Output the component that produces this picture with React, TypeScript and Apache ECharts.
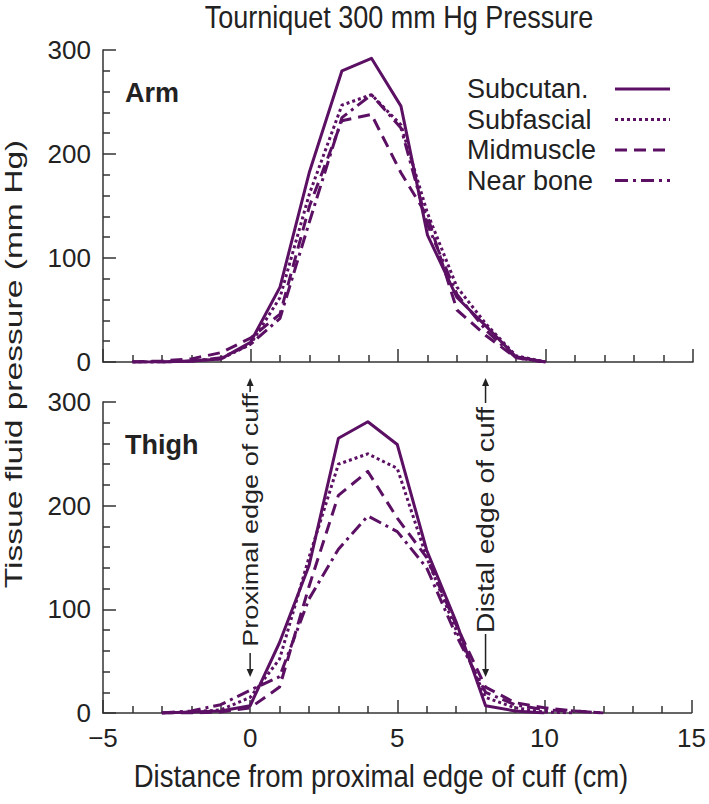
import { useEffect, useRef } from "react";
import * as echarts from "echarts";

const FONT = "'Liberation Sans', Arial, Helvetica, sans-serif";
const INK = "#222222";
const PURPLE = "#5c1064";

const seriesNames = ["Subcutan.", "Subfascial", "Midmuscle", "Near bone"];

// Arm (upper panel)
const armX = [-4, -3, -2, -1, 0, 1, 2, 3.1, 4.1, 5.1, 6, 7, 8, 9, 10];
const armSubcutan = [0, 0, 1, 3, 19, 72, 183, 280, 292, 246, 122, 62, 34, 5, 0];
const armSubfascial = [0, 0, 1, 3, 17, 62, 162, 247, 257, 228, 143, 72, 36, 6, 0];
const armMidmuscle = [0, 1, 3, 9, 23, 46, 150, 232, 238, 182, 140, 50, 25, 4, 0];
const armNearBone = [0, 0, 1, 4, 17, 42, 135, 235, 257, 225, 132, 65, 30, 4, 0];

// Thigh (lower panel)
const thighX = [-3, -2, -1, 0, 1, 2, 3, 4, 5, 6, 7, 8, 9, 10, 11, 12];
const thighSubcutan = [0, 1, 2, 7, 68, 142, 265, 281, 259, 157, 88, 7, 2, 0];
const thighSubfascial = [0, 1, 3, 15, 52, 150, 240, 250, 236, 150, 80, 15, 5, 1, 0];
const thighMidmuscle = [0, 0, 1, 5, 25, 122, 210, 233, 188, 150, 85, 25, 10, 5, 2, 0];
const thighNearBone = [0, 2, 8, 22, 35, 110, 158, 190, 175, 140, 75, 20, 8, 3, 2, 0];

const xMin = -5;
const xMax = 15;
const xStep = 5;
const yMin = 0;
const yMax = 300;
const yStep = 100;

const proximalEdge = 0;
const distalEdge = 8;

const dashes: any[] = ["solid", [3, 3], [12, 7], [13, 5, 3, 5]];

function pairs(xs: number[], ys: number[]) {
  return ys.map((y, i) => [xs[i], y]);
}

function lineSeries(name: string, idx: number, data: number[][], dash: any) {
  return {
    type: "line",
    name,
    xAxisIndex: idx,
    yAxisIndex: idx,
    data,
    symbol: "none",
    showSymbol: false,
    lineStyle: { color: PURPLE, width: 3, type: dash, cap: "butt", join: "round" },
    itemStyle: { color: PURPLE },
    emphasis: { disabled: true },
  };
}

const tickStyle = { color: "#333", width: 1.5 };

function xAxis(gridIndex: number, labels: boolean) {
  return {
    type: "value",
    gridIndex,
    min: xMin,
    max: xMax,
    interval: xStep,
    axisLine: { show: true, lineStyle: tickStyle },
    axisTick: { show: true, inside: true, length: 13, lineStyle: tickStyle },
    minorTick: { show: true, splitNumber: 5, length: 7, lineStyle: tickStyle },
    splitLine: { show: false },
    axisLabel: {
      show: labels,
      fontSize: 26,
      fontFamily: FONT,
      color: INK,
      margin: 12,
      formatter: (v: number) => String(v).replace("-", "\u2212"),
    },
  };
}

function yAxis(gridIndex: number) {
  return {
    type: "value",
    gridIndex,
    min: yMin,
    max: yMax,
    interval: yStep,
    axisLine: { show: true, onZero: false, lineStyle: tickStyle },
    axisTick: { show: true, inside: true, length: 13, lineStyle: tickStyle },
    minorTick: { show: true, splitNumber: 5, length: 7, lineStyle: tickStyle },
    splitLine: { show: false },
    axisLabel: { fontSize: 26, fontFamily: FONT, color: INK, margin: 12 },
  };
}

function arrow(x: number, yFrom: number, yTip: number) {
  const dir = yTip < yFrom ? -1 : 1;
  const head = 8;
  return [
    {
      type: "line",
      shape: { x1: x, y1: yFrom, x2: x, y2: yTip - dir * head * 0.6 },
      style: { stroke: INK, lineWidth: 1.5 },
      silent: true,
    },
    {
      type: "polygon",
      shape: {
        points: [
          [x, yTip],
          [x - 3.5, yTip - dir * head],
          [x + 3.5, yTip - dir * head],
        ],
      },
      style: { fill: INK },
      silent: true,
    },
  ];
}

export default function App() {
  const ref = useRef<HTMLDivElement>(null);

  useEffect(() => {
    if (!ref.current) return;
    const chart = echarts.init(ref.current, null, { renderer: "svg" });

    const option: any = {
      animation: false,
      backgroundColor: "#ffffff",
      grid: [
        { left: 103, top: 50, width: 590, height: 312 },
        { left: 103, top: 402, width: 590, height: 311 },
      ],
      xAxis: [xAxis(0, false), xAxis(1, true)],
      yAxis: [yAxis(0), yAxis(1)],
      legend: {
        data: seriesNames,
        orient: "vertical",
        left: 462,
        top: 70,
        align: "right",
        itemWidth: 55,
        itemHeight: 14,
        itemGap: 2.5,
        selectedMode: false,
        lineStyle: { width: 3 },
        itemStyle: { opacity: 0, borderWidth: 0 },
        formatter: (name: string) => `{n|${name}}`,
        textStyle: {
          fontSize: 27,
          fontFamily: FONT,
          color: INK,
          lineHeight: 28,
          rich: {
            n: { width: 143, align: "left", fontSize: 27, fontFamily: FONT, color: INK, lineHeight: 28 },
          },
        },
      },
      series: [
        lineSeries(seriesNames[0], 0, pairs(armX, armSubcutan), dashes[0]),
        lineSeries(seriesNames[1], 0, pairs(armX, armSubfascial), dashes[1]),
        lineSeries(seriesNames[2], 0, pairs(armX, armMidmuscle), dashes[2]),
        lineSeries(seriesNames[3], 0, pairs(armX, armNearBone), dashes[3]),
        lineSeries(seriesNames[0], 1, pairs(thighX, thighSubcutan), dashes[0]),
        lineSeries(seriesNames[1], 1, pairs(thighX, thighSubfascial), dashes[1]),
        lineSeries(seriesNames[2], 1, pairs(thighX, thighMidmuscle), dashes[2]),
        lineSeries(seriesNames[3], 1, pairs(thighX, thighNearBone), dashes[3]),
      ],
    };
    chart.setOption(option);

    const pxProx = chart.convertToPixel({ xAxisIndex: 1 } as any, proximalEdge) as number;
    const pxDist = chart.convertToPixel({ xAxisIndex: 1 } as any, distalEdge) as number;

    const graphic: any[] = [
      {
        type: "text",
        x: 399,
        y: 17,
        scaleY: 1.15,
        silent: true,
        style: {
          text: "Tourniquet 300 mm Hg Pressure",
          fontSize: 27,
          fontFamily: FONT,
          fill: INK,
          align: "center",
          verticalAlign: "middle",
        },
      },
      {
        type: "text",
        x: 381,
        y: 776,
        scaleY: 1.15,
        silent: true,
        style: {
          text: "Distance from proximal edge of cuff (cm)",
          fontSize: 27.5,
          fontFamily: FONT,
          fill: INK,
          align: "center",
          verticalAlign: "middle",
        },
      },
      {
        type: "text",
        x: 14,
        y: 364,
        rotation: Math.PI / 2,
        scaleX: 1.43,
        silent: true,
        style: {
          text: "Tissue fluid pressure (mm Hg)",
          fontSize: 23.5,
          fontFamily: FONT,
          fill: INK,
          align: "center",
          verticalAlign: "middle",
        },
      },
      {
        type: "text",
        x: 125,
        y: 93,
        silent: true,
        style: {
          text: "Arm",
          fontSize: 27,
          fontWeight: "bold",
          fontFamily: FONT,
          fill: INK,
          align: "left",
          verticalAlign: "middle",
        },
      },
      {
        type: "text",
        x: 125,
        y: 445,
        silent: true,
        style: {
          text: "Thigh",
          fontSize: 27,
          fontWeight: "bold",
          fontFamily: FONT,
          fill: INK,
          align: "left",
          verticalAlign: "middle",
        },
      },
      {
        type: "text",
        x: pxProx,
        y: 520,
        rotation: Math.PI / 2,
        scaleX: 1.23,
        silent: true,
        style: {
          text: "Proximal edge of cuff",
          fontSize: 22,
          fontFamily: FONT,
          fill: INK,
          align: "center",
          verticalAlign: "middle",
        },
      },
      {
        type: "text",
        x: pxDist,
        y: 520,
        rotation: Math.PI / 2,
        scaleX: 1.23,
        silent: true,
        style: {
          text: "Distal edge of cuff",
          fontSize: 23,
          fontFamily: FONT,
          fill: INK,
          align: "center",
          verticalAlign: "middle",
        },
      },
      ...arrow(pxProx, 392, 378),
      ...arrow(pxProx, 653, 677),
      ...arrow(pxDist, 403, 378),
      ...arrow(pxDist, 634, 677),
    ];
    chart.setOption({ graphic });

    return () => chart.dispose();
  }, []);

  return (
    <div
      ref={ref}
      style={{ position: "fixed", left: 0, top: 0, width: 709, height: 804, background: "#fff" }}
    />
  );
}
